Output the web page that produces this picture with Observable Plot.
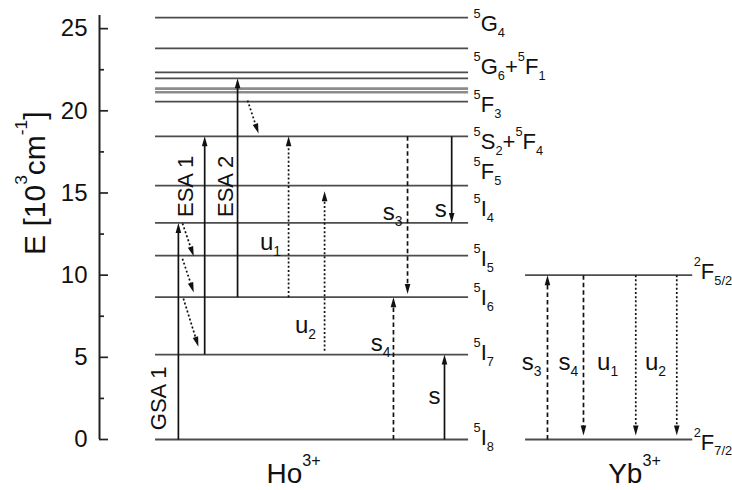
<!DOCTYPE html>
<html><head><meta charset="utf-8">
<script src="https://cdn.jsdelivr.net/npm/d3@7"></script>
<script src="https://cdn.jsdelivr.net/npm/@observablehq/plot@0.6"></script>
<style>
html,body{margin:0;padding:0;background:#fff;}
body{width:732px;height:490px;overflow:hidden;font-family:"Liberation Sans",Arial,sans-serif;}
</style></head><body>
<div id="chart"></div>
<script>
// ---- Data: energy levels (10^3 cm^-1) ----
const hoLevelE = [0, 5.17, 8.66, 11.19, 13.18, 15.45, 18.45, 20.56, 21.98, 22.34, 23.8, 25.67];
const hoBandE  = [21.13, 21.35];
const ybLevelE = [0, 10.0];

// term symbols (^ = superscript, _ = subscript)
const hoTerms  = ["^5I_8","^5I_7","^5I_6","^5I_5","^5I_4","^5F_5","^5S_2+^5F_4","^5F_3","^5G_6+^5F_1","^5G_4"];
const hoTermE  = [0.12, 5.29, 8.64, 10.99, 14.0, 16.25, 18.08, 20.33, 22.64, 25.26];
const ybTerms  = ["^2F_{7/2}", "^2F_{5/2}"];
const ybTermE  = [-0.18, 10.22];

// transitions: column, start energy -> end energy
const solidArrows = [
  {x1: 0.73, E1: 0,     x2: 0.73, E2: 13.18},  // GSA 1
  {x1: 1.57, E1: 5.17,  x2: 1.57, E2: 18.45},  // ESA 1
  {x1: 2.62, E1: 8.66,  x2: 2.62, E2: 21.98},  // ESA 2
  {x1: 9.23, E1: 0,     x2: 9.23, E2: 5.17},   // s up
  {x1: 9.46, E1: 18.45, x2: 9.46, E2: 13.18}   // s down
];
const dashedArrows = [
  {x1: 7.60,  E1: 0,     x2: 7.60,  E2: 8.66},  // s4 Ho
  {x1: 8.05,  E1: 18.45, x2: 8.05,  E2: 8.85},  // s3 Ho
  {x1: 12.52, E1: 0,     x2: 12.52, E2: 10.0},  // s3 Yb
  {x1: 13.67, E1: 10.0,  x2: 13.67, E2: 0.25}   // s4 Yb
];
const dottedArrows = [
  {x1: 4.25,  E1: 8.66,  x2: 4.25,  E2: 18.45}, // u1 Ho
  {x1: 5.40,  E1: 5.40,  x2: 5.40,  E2: 15.10}, // u2 Ho
  {x1: 15.34, E1: 10.0,  x2: 15.34, E2: 0.25},  // u1 Yb
  {x1: 16.65, E1: 10.0,  x2: 16.65, E2: 0.25},  // u2 Yb
  {x1: 0.86,  E1: 13.15, x2: 1.22,  E2: 11.15}, // relaxations
  {x1: 0.86,  E1: 11.00, x2: 1.22,  E2: 8.95},
  {x1: 0.89,  E1: 8.58,  x2: 1.37,  E2: 5.65},
  {x1: 2.94,  E1: 20.63, x2: 3.29,  E2: 18.62}
];

// transition labels
const transLabels = ["u_1","u_2","s_3","s_4","s","s","s_3","s_4","u_1","u_2"];
const transLabelX = [3.67, 4.79, 7.57, 7.19, 9.11, 8.91, 12.01, 13.19, 14.44, 15.97];
const transLabelE = [12.0, 6.95, 13.83, 5.85, 14.0, 2.62, 4.7, 4.7, 4.7, 4.7];
const rotLabels   = ["GSA 1", "ESA 1", "ESA 2"];
const rotLabelX   = [0.10, 0.96, 2.24];
const rotLabelE   = [2.50, 15.40, 15.40];
const ionLabels   = ["Ho^{3+}", "Yb^{3+}"];
const ionLabelX   = [4.41, 15.30];

const majorTicks = [0, 5, 10, 15, 20, 25];
const minorTicks = [2.5, 7.5, 12.5, 17.5, 22.5];
const yTitle = "E [10^3cm^{-1}]";

// ---- Layout ----
const W = 732, H = 490, ML = 99, MR = 0, MT = 15, MB = 51;
const X_MIN = -1.79, X_MAX = 18.43, Y_MAX = 25.8;
const HO_COL = [0, 10], YB_COL = [11.82, 17.16];
const frameW = W - ML - MR;

const sx = Plot.scale({x: {domain: [X_MIN, X_MAX], range: [ML, W - MR]}});
const sy = Plot.scale({y: {domain: [0, Y_MAX], range: [H - MB, MT]}});

function head(angle) {
  const L = 10, Wd = 2.8, c = Math.cos(angle), s = Math.sin(angle);
  return {draw(ctx) {
    const bx = -L * c, by = -L * s;
    ctx.moveTo(0, 0);
    ctx.lineTo(bx - Wd * s, by + Wd * c);
    ctx.lineTo(bx + Wd * s, by - Wd * c);
    ctx.closePath();
  }};
}

function arrowMarks(list, dash) {
  const out = [Plot.arrow(list, {
    x1: "x1", y1: "E1", x2: "x2", y2: "E2", headLength: 0, insetEnd: 7,
    stroke: "#111", strokeWidth: 1.7, strokeDasharray: dash, strokeLinecap: "butt"
  })];
  for (const a of list) {
    const ang = Math.atan2(sy.apply(a.E2) - sy.apply(a.E1), sx.apply(a.x2) - sx.apply(a.x1));
    out.push(Plot.dot([a], {x: "x2", y: "E2", symbol: head(ang), r: 5, fill: "#111", stroke: "none"}));
  }
  return out;
}

const chart = Plot.plot({
  width: W, height: H,
  marginLeft: ML, marginRight: MR, marginTop: MT, marginBottom: MB,
  style: {fontFamily: "'Liberation Sans', Arial, sans-serif", background: "white", color: "#111"},
  x: {domain: [X_MIN, X_MAX], axis: null},
  y: {domain: [0, Y_MAX]},
  marks: [
    // levels
    Plot.ruleY(hoLevelE, {y: d => d, x1: () => HO_COL[0], x2: () => HO_COL[1], stroke: "#4d4d4d", strokeWidth: 1.8}),
    Plot.ruleY(hoBandE, {y: d => d, x1: () => HO_COL[0], x2: () => HO_COL[1], stroke: "#8c8c8c", strokeWidth: 2.6}),
    Plot.ruleY(ybLevelE, {y: d => d, x1: () => YB_COL[0], x2: () => YB_COL[1], stroke: "#4d4d4d", strokeWidth: 1.8}),
    // y axis
    Plot.ruleX([X_MIN], {x: d => d, stroke: "#222", strokeWidth: 2}),
    Plot.ruleY(majorTicks, {y: d => d, insetRight: frameW - 9, stroke: "#222", strokeWidth: 1.7}),
    Plot.ruleY(minorTicks, {y: d => d, insetRight: frameW - 5, stroke: "#222", strokeWidth: 1.7}),
    Plot.axisY({ticks: majorTicks, tickSize: 0, tickPadding: 12, fontSize: 24, label: null, tickFormat: d => String(d)}),
    Plot.text([yTitle], {text: d => d, frameAnchor: "left", textAnchor: "middle", y: () => 15.6, dx: -64, rotate: -90, fontSize: 30, lineAnchor: "middle"}),
    // transitions
    ...arrowMarks(solidArrows, null),
    ...arrowMarks(dashedArrows, "4.5,3"),
    ...arrowMarks(dottedArrows, "2,2.2"),
    // term labels
    Plot.text(hoTerms, {text: d => d, x: () => HO_COL[1], y: (d, i) => hoTermE[i], textAnchor: "start", dx: 5, fontSize: 22, lineAnchor: "middle"}),
    Plot.text(ybTerms, {text: d => d, x: () => YB_COL[1], y: (d, i) => ybTermE[i], textAnchor: "start", dx: 1, fontSize: 22, lineAnchor: "middle"}),
    // transition labels
    Plot.text(transLabels, {text: d => d, x: (d, i) => transLabelX[i], y: (d, i) => transLabelE[i], fontSize: 24, lineAnchor: "middle"}),
    Plot.text(rotLabels, {text: d => d, x: (d, i) => rotLabelX[i], y: (d, i) => rotLabelE[i], rotate: -90, fontSize: 22, lineAnchor: "middle"}),
    Plot.text(ionLabels, {text: d => d, x: (d, i) => ionLabelX[i], y: () => -2.62, fontSize: 28, lineAnchor: "bottom"})
  ]
});
document.getElementById("chart").appendChild(chart);

// rich text: ^x superscript, _x subscript
function richify(root) {
  root.querySelectorAll("text").forEach(t => {
    const s = t.textContent;
    if (!/[\^_]/.test(s)) return;
    const fs = parseFloat(getComputedStyle(t).fontSize) || 22;
    t.textContent = "";
    const re = /([\^_])(\{[^}]*\}|.)|([^\^_]+)/g;
    let m;
    while ((m = re.exec(s))) {
      const ts = document.createElementNS("http://www.w3.org/2000/svg", "tspan");
      if (m[3]) ts.textContent = m[3];
      else {
        const txt = m[2].startsWith("{") ? m[2].slice(1, -1) : m[2];
        ts.textContent = txt;
        const sup = m[1] === "^";
        ts.setAttribute("font-size", (fs * 0.58).toFixed(1));
        ts.setAttribute("baseline-shift", (sup ? fs * 0.6 : -fs * 0.26).toFixed(1));
      }
      t.appendChild(ts);
    }
  });
}
richify(chart);
</script>
</body></html>
